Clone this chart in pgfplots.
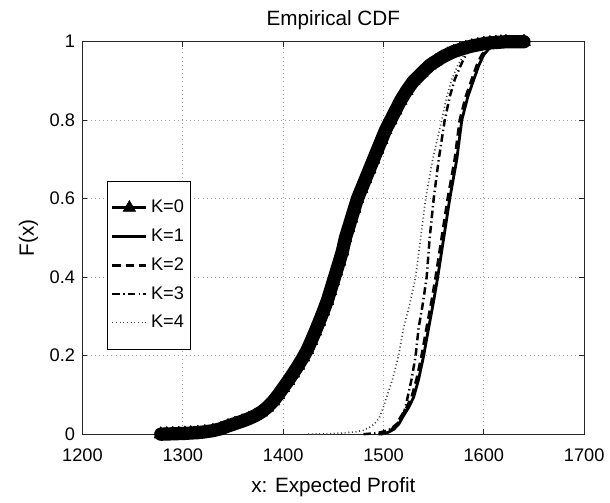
\documentclass[border=0pt]{standalone}
\usepackage{fontspec}
\setmainfont{Liberation Sans}
\usepackage{pgfplots}
\pgfplotsset{compat=1.18}

\begin{document}
\begin{tikzpicture}
\begin{axis}[
  name=ax,
  scale only axis, width=303pt, height=237pt,
  xmin=1200, xmax=1700, ymin=0, ymax=1,
  xtick={1200,1300,...,1700},
  ytick={0,0.2,0.4,0.6,0.8,1},
  yticklabels={0,0.2,0.4,0.6,0.8,1},
  /pgf/number format/assume math mode=true,
  /pgf/number format/set thousands separator={},
  tick label style={font=\fontsize{11}{13}\selectfont},
  xticklabel style={yshift=-5pt},
  yticklabel style={xshift=-1pt},
  label style={font=\fontsize{12.5}{15}\selectfont},
  xlabel style={yshift=-3pt},
  title style={font=\fontsize{12.5}{15}\selectfont, yshift=-2.5pt},
  title={Empirical CDF},
  xlabel={x: Expected Profit},
  ylabel={F(x)},
  tick align=inside, tick pos=both,
  major tick length=3pt,
  axis line style={line width=0.7pt, black!85},
  every tick/.style={line width=0.7pt, black!85},
  grid=major,
  major grid style={line width=0.5pt, gray!75, dash pattern=on 0.5pt off 2pt},
  clip=false,
  legend cell align=left,
  legend style={at={(0.0495,0.646)}, anchor=north west, draw=black, line width=0.5pt,
    fill=white, font=\fontsize{11}{13}\selectfont, row sep=4.2pt,
    inner xsep=2pt, inner ysep=9.5pt},
  legend image code/.code={\draw[mark repeat=2,mark phase=2,#1]
    plot coordinates {(0cm,0cm) (0.36cm,0cm) (0.72cm,0cm)};},
]
% K=0
\addplot[black, line width=8pt, line join=round, line cap=round, mark=triangle*, mark size=4.5pt,
  mark options={solid, line width=0.4pt}, forget plot] coordinates {
(1278,0)(1284,0.0005)(1290,0.001)(1296,0.0015)(1302,0.002)(1308,0.003)
(1315,0.004)(1322,0.006)(1330,0.009)(1338,0.014)(1345,0.021)(1352,0.027)
(1359,0.033)(1366,0.04)(1372,0.047)(1378,0.056)(1384,0.068)(1390,0.084)
(1395,0.1)(1400,0.118)(1405,0.136)(1410,0.155)(1415,0.175)(1420,0.196)
(1424,0.215)(1428,0.238)(1432,0.262)(1436,0.287)(1440,0.313)(1444,0.34)
(1447,0.365)(1450,0.39)(1453,0.415)(1456,0.44)(1459,0.466)(1462,0.5)
(1465,0.525)(1468,0.55)(1471,0.575)(1474,0.6)(1478,0.625)
(1482,0.65)(1486,0.675)(1490,0.7)(1494,0.725)(1498,0.75)(1502,0.775)
(1507,0.8)(1512,0.825)(1517,0.85)(1523,0.875)(1530,0.9)(1538,0.92)
(1546,0.94)(1552,0.95)(1558,0.96)(1564,0.968)(1570,0.975)(1576,0.98)
(1582,0.985)(1588,0.989)(1594,0.992)(1600,0.995)(1606,0.997)(1612,0.998)
(1617,0.999)(1622,1)(1640,1)
};
\addlegendimage{black, line width=1.6pt, mark=triangle*, mark size=4.3pt,
  mark options={solid, line width=0.4pt}}
\addlegendentry{K=0\hspace{5pt}}
% K=1
\addplot[black, line width=1.7pt] coordinates {
(1497,0)(1504,0.004)(1510,0.012)(1515,0.025)(1519,0.043)(1525,0.068)
(1530,0.094)(1535,0.14)(1540,0.2)(1545,0.271)(1550,0.34)(1554,0.4)
(1560,0.5)(1566,0.6)(1573,0.7)(1578,0.8)(1584,0.86)(1590,0.904)
(1595,0.94)(1600,0.967)(1605,0.982)(1610,0.99)(1616,0.997)(1622,1)
};
\addlegendentry{K=1}
% K=2
\addplot[black, line width=1.7pt, dash pattern=on 5pt off 3pt] coordinates {
(1495,0)(1502,0.004)(1508,0.012)(1513,0.025)(1517,0.043)(1523,0.068)
(1528,0.094)(1533,0.14)(1538,0.2)(1543,0.271)(1548,0.34)(1552,0.4)
(1558,0.5)(1564,0.6)(1571,0.7)(1576,0.8)(1582,0.86)(1588,0.904)
(1593,0.94)(1598,0.967)(1603,0.982)(1608,0.99)(1614,0.997)(1620,1)
};
\addlegendentry{K=2}
% K=3
\addplot[black, line width=1.5pt, dash pattern=on 4.5pt off 2pt on 0.8pt off 2pt] coordinates {
(1480,0)(1494,0.003)(1505,0.01)(1513,0.025)(1519,0.043)(1522,0.07)
(1524,0.094)(1528,0.14)(1532,0.2)(1535,0.271)(1539,0.33)(1543,0.4)
(1546,0.5)(1550,0.6)(1555,0.7)(1561,0.8)(1566,0.86)(1571,0.904)
(1577,0.94)(1582,0.967)(1587,0.982)(1591,0.99)(1597,0.997)(1605,1)
};
\addlegendentry{K=3}
% K=4
\addplot[black!75, line width=1pt, dash pattern=on 0.6pt off 1.6pt] coordinates {
(1425,0)(1445,0.001)(1460,0.003)(1472,0.006)(1480,0.01)(1488,0.02)
(1493,0.032)(1496,0.043)(1500,0.07)(1503,0.094)(1509,0.14)(1515,0.2)
(1520,0.271)(1526,0.33)(1532,0.4)(1537,0.5)(1542,0.6)(1549,0.7)
(1558,0.8)(1563,0.86)(1568,0.904)(1574,0.94)(1580,0.967)(1585,0.982)
(1590,0.99)(1595,0.997)(1600,1)
};
\addlegendentry{K=4}
\end{axis}
\path (ax.south west) ++(-49.8pt,-40.8pt) coordinate (bl);
\path (ax.north east) ++(13.2pt,25.2pt) coordinate (tr);
\path (bl) rectangle (tr);
\end{tikzpicture}
\end{document}
